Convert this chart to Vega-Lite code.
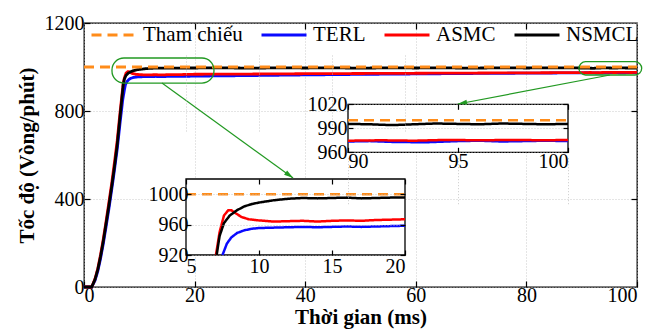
{
"$schema": "https://vega.github.io/schema/vega-lite/v6.json",
"width": 553, "height": 264,
"autosize": {"type": "none"},
"padding": {"left": 84, "top": 23, "right": 16, "bottom": 42},
"background": "white",
"config": {
  "font": "Liberation Serif",
  "view": {"stroke": "black", "strokeWidth": 1.3},
  "axis": {"labelFont": "Liberation Serif", "labelFontSize": 20, "labelColor": "black", "tickColor": "black", "domain": false, "tickSize": -6, "tickWidth": 1.2, "gridColor": "#bdbdbd", "gridDash": [1, 2], "gridWidth": 0.8, "titleFont": "Liberation Serif", "titleFontSize": 21, "titleFontWeight": "bold", "titleColor": "black", "format": "d"},
  "legend": {"labelFont": "Liberation Serif", "labelFontSize": 21, "labelColor": "black"}
},
"datasets": {
  "curves": [
    {"s":"TERL","t":0,"v":0},{"s":"TERL","t":1.4,"v":0},{"s":"TERL","t":2,"v":30},{"s":"TERL","t":2.5,"v":72},{"s":"TERL","t":3,"v":130},{"s":"TERL","t":3.5,"v":198},{"s":"TERL","t":4,"v":275},{"s":"TERL","t":4.5,"v":355},{"s":"TERL","t":5,"v":440},{"s":"TERL","t":5.5,"v":530},{"s":"TERL","t":6,"v":625},{"s":"TERL","t":6.5,"v":740},{"s":"TERL","t":7,"v":850},{"s":"TERL","t":7.3,"v":895},{"s":"TERL","t":7.5,"v":920},{"s":"TERL","t":7.8,"v":935},{"s":"TERL","t":8.1,"v":943},{"s":"TERL","t":8.5,"v":949},{"s":"TERL","t":9,"v":952.5},{"s":"TERL","t":9.5,"v":954.5},{"s":"TERL","t":10,"v":955.5},{"s":"TERL","t":11,"v":956},{"s":"TERL","t":12,"v":956.5},{"s":"TERL","t":13,"v":957},{"s":"TERL","t":14,"v":956.5},{"s":"TERL","t":15,"v":957},{"s":"TERL","t":16,"v":957.5},{"s":"TERL","t":17,"v":957},{"s":"TERL","t":18,"v":957.5},{"s":"TERL","t":19,"v":958},{"s":"TERL","t":20,"v":958.5},{"s":"TERL","t":30,"v":961},{"s":"TERL","t":40,"v":964},{"s":"TERL","t":50,"v":966.5},{"s":"TERL","t":60,"v":968.5},{"s":"TERL","t":70,"v":970.5},{"s":"TERL","t":80,"v":972},{"s":"TERL","t":90,"v":973.5},{"s":"TERL","t":91,"v":974},{"s":"TERL","t":92,"v":973},{"s":"TERL","t":93.5,"v":972.5},{"s":"TERL","t":95,"v":974},{"s":"TERL","t":96,"v":974.5},{"s":"TERL","t":97,"v":973.5},{"s":"TERL","t":98,"v":974},{"s":"TERL","t":99,"v":974.5},{"s":"TERL","t":100,"v":974},
    {"s":"ASMC","t":0,"v":0},{"s":"ASMC","t":1.4,"v":0},{"s":"ASMC","t":2,"v":38},{"s":"ASMC","t":2.5,"v":85},{"s":"ASMC","t":3,"v":148},{"s":"ASMC","t":3.5,"v":220},{"s":"ASMC","t":4,"v":300},{"s":"ASMC","t":4.5,"v":385},{"s":"ASMC","t":5,"v":470},{"s":"ASMC","t":5.5,"v":565},{"s":"ASMC","t":6,"v":665},{"s":"ASMC","t":6.5,"v":790},{"s":"ASMC","t":7,"v":905},{"s":"ASMC","t":7.05,"v":920},{"s":"ASMC","t":7.3,"v":950},{"s":"ASMC","t":7.6,"v":972},{"s":"ASMC","t":7.9,"v":979},{"s":"ASMC","t":8.1,"v":979},{"s":"ASMC","t":8.4,"v":975},{"s":"ASMC","t":8.8,"v":970},{"s":"ASMC","t":9.3,"v":967},{"s":"ASMC","t":10,"v":965.5},{"s":"ASMC","t":11,"v":964},{"s":"ASMC","t":12,"v":964.5},{"s":"ASMC","t":13,"v":965},{"s":"ASMC","t":14,"v":964},{"s":"ASMC","t":15,"v":965},{"s":"ASMC","t":16,"v":965.5},{"s":"ASMC","t":17,"v":965},{"s":"ASMC","t":18,"v":966},{"s":"ASMC","t":19,"v":966.5},{"s":"ASMC","t":20,"v":967},{"s":"ASMC","t":30,"v":968},{"s":"ASMC","t":40,"v":969.5},{"s":"ASMC","t":50,"v":970.5},{"s":"ASMC","t":60,"v":971.5},{"s":"ASMC","t":70,"v":972.5},{"s":"ASMC","t":80,"v":973.5},{"s":"ASMC","t":90,"v":974.5},{"s":"ASMC","t":91.5,"v":975},{"s":"ASMC","t":93,"v":974.5},{"s":"ASMC","t":94.5,"v":975.5},{"s":"ASMC","t":96,"v":975},{"s":"ASMC","t":97.5,"v":975.5},{"s":"ASMC","t":99,"v":975},{"s":"ASMC","t":100,"v":975.5},
    {"s":"NSMCL","t":0,"v":0},{"s":"NSMCL","t":1.4,"v":0},{"s":"NSMCL","t":2,"v":35},{"s":"NSMCL","t":2.5,"v":80},{"s":"NSMCL","t":3,"v":140},{"s":"NSMCL","t":3.5,"v":210},{"s":"NSMCL","t":4,"v":290},{"s":"NSMCL","t":4.5,"v":370},{"s":"NSMCL","t":5,"v":455},{"s":"NSMCL","t":5.5,"v":545},{"s":"NSMCL","t":6,"v":645},{"s":"NSMCL","t":6.5,"v":770},{"s":"NSMCL","t":7,"v":895},{"s":"NSMCL","t":7.1,"v":920},{"s":"NSMCL","t":7.3,"v":945},{"s":"NSMCL","t":7.6,"v":962},{"s":"NSMCL","t":8,"v":972},{"s":"NSMCL","t":8.5,"v":979},{"s":"NSMCL","t":9,"v":984},{"s":"NSMCL","t":9.5,"v":987},{"s":"NSMCL","t":10,"v":989},{"s":"NSMCL","t":11,"v":992},{"s":"NSMCL","t":12,"v":994},{"s":"NSMCL","t":13,"v":995},{"s":"NSMCL","t":14,"v":994.5},{"s":"NSMCL","t":15,"v":995},{"s":"NSMCL","t":16,"v":995.5},{"s":"NSMCL","t":17,"v":994.5},{"s":"NSMCL","t":18,"v":995},{"s":"NSMCL","t":19,"v":995.5},{"s":"NSMCL","t":20,"v":995.5},{"s":"NSMCL","t":25,"v":996},{"s":"NSMCL","t":30,"v":995},{"s":"NSMCL","t":35,"v":996},{"s":"NSMCL","t":40,"v":995.5},{"s":"NSMCL","t":45,"v":996},{"s":"NSMCL","t":50,"v":995},{"s":"NSMCL","t":55,"v":996},{"s":"NSMCL","t":60,"v":995.5},{"s":"NSMCL","t":65,"v":996},{"s":"NSMCL","t":70,"v":995},{"s":"NSMCL","t":75,"v":996},{"s":"NSMCL","t":80,"v":995.5},{"s":"NSMCL","t":85,"v":996},{"s":"NSMCL","t":90,"v":995.5},{"s":"NSMCL","t":91,"v":995},{"s":"NSMCL","t":92,"v":994},{"s":"NSMCL","t":93,"v":995},{"s":"NSMCL","t":94,"v":996},{"s":"NSMCL","t":95,"v":995.5},{"s":"NSMCL","t":96,"v":995},{"s":"NSMCL","t":97,"v":996},{"s":"NSMCL","t":98,"v":995.5},{"s":"NSMCL","t":99,"v":995},{"s":"NSMCL","t":100,"v":995.5},
    {"s":"Tham chiếu","t":0,"v":1000},{"s":"Tham chiếu","t":5,"v":1000},{"s":"Tham chiếu","t":20,"v":1000},{"s":"Tham chiếu","t":90,"v":1000},{"s":"Tham chiếu","t":100,"v":1000}
  ]
},
"layer": [
  {
    "layer": [
      {
        "data": {"name": "curves"},
        "mark": {"type": "line", "strokeWidth": 2.8},
        "encoding": {
          "x": {"field": "t", "type": "quantitative", "scale": {"domain": [0, 100], "nice": false}, "axis": {"orient": "bottom", "values": [0, 20, 40, 60, 80, 100], "title": "Thời gian (ms)", "grid": true, "labelPadding": 4, "titlePadding": 1}},
          "y": {"field": "v", "type": "quantitative", "scale": {"domain": [0, 1200], "nice": false}, "axis": {"orient": "left", "values": [0, 400, 800, 1200], "title": "Tốc độ (Vòng/phút)", "grid": true, "labelPadding": 6, "titlePadding": 7}},
          "color": {"field": "s", "type": "nominal", "scale": {"domain": ["Tham chiếu", "TERL", "ASMC", "NSMCL"], "range": ["#ff8c1a", "#0a0aff", "#ff0000", "#000000"]}, "legend": {"title": null, "orient": "none", "legendX": 6, "legendY": -12, "direction": "horizontal", "symbolType": "stroke", "symbolSize": 2025, "symbolStrokeWidth": 3, "labelOffset": 5, "columnPadding": 12}},
          "strokeDash": {"field": "s", "type": "nominal", "scale": {"domain": ["Tham chiếu", "TERL", "ASMC", "NSMCL"], "range": [[10, 6], [1, 0], [1, 0], [1, 0]]}, "legend": {"title": null, "orient": "none", "legendX": 6, "legendY": -12, "direction": "horizontal", "symbolType": "stroke", "symbolSize": 2025, "symbolStrokeWidth": 3, "labelOffset": 5, "columnPadding": 12}}
        }
      },
      {
        "data": {"values": [{}]},
        "mark": {"type": "rect", "filled": false, "stroke": "#229922", "strokeWidth": 1.3, "cornerRadius": 12},
        "encoding": {
          "x": {"datum": 5.06, "type": "quantitative", "axis": {"orient": "top", "values": [20, 40, 60, 80], "labels": false, "grid": false, "title": null}},
          "x2": {"datum": 23.5},
          "y": {"datum": 927, "type": "quantitative", "axis": {"orient": "right", "values": [400, 800], "labels": false, "grid": false, "title": null}},
          "y2": {"datum": 1041}
        }
      },
      {
        "data": {"values": [{}]},
        "mark": {"type": "rect", "filled": false, "stroke": "#229922", "strokeWidth": 1.3, "cornerRadius": 7},
        "encoding": {
          "x": {"datum": 89.5, "type": "quantitative", "axis": null},
          "x2": {"datum": 100.85},
          "y": {"datum": 963.6, "type": "quantitative", "axis": null},
          "y2": {"datum": 1024}
        }
      }
    ],
    "resolve": {"axis": {"x": "independent", "y": "independent"}}
  },
  {
    "layer": [
      {
        "data": {"values": [{}]},
        "mark": {"type": "rect", "fill": "white", "stroke": "black", "strokeWidth": 1.3},
        "encoding": {
          "x": {"datum": 90, "type": "quantitative", "scale": {"domain": [90, 100], "range": [264, 484], "nice": false}, "axis": {"orient": "bottom", "values": [90, 95, 100], "offset": -134.7, "grid": true, "title": null, "zindex": 1, "tickSize": -5, "labelPadding": 4}},
          "x2": {"datum": 100},
          "y": {"datum": 960, "type": "quantitative", "scale": {"domain": [960, 1020], "range": [129.3, 81.3], "nice": false}, "axis": {"orient": "left", "values": [960, 990, 1020], "offset": -264, "grid": true, "title": null, "zindex": 1, "tickSize": -5, "labelPadding": 6}},
          "y2": {"datum": 1020}
        }
      },
      {
        "data": {"name": "curves"},
        "transform": [{"filter": "datum.t >= 90"}],
        "mark": {"type": "line", "strokeWidth": 2.5},
        "encoding": {
          "x": {"field": "t", "type": "quantitative", "scale": {"domain": [90, 100], "range": [264, 484], "nice": false}, "axis": {"orient": "top", "values": [90, 95, 100], "offset": -81.3, "labels": false, "grid": false, "title": null, "zindex": 1, "tickSize": -5}},
          "y": {"field": "v", "type": "quantitative", "scale": {"domain": [960, 1020], "range": [129.3, 81.3], "nice": false}, "axis": {"orient": "right", "values": [960, 990, 1020], "offset": -69, "labels": false, "grid": false, "title": null, "zindex": 1, "tickSize": -5}},
          "color": {"field": "s", "type": "nominal"},
          "strokeDash": {"field": "s", "type": "nominal"}
        }
      }
    ],
    "resolve": {"axis": {"x": "independent", "y": "independent"}}
  },
  {
    "layer": [
      {
        "data": {"values": [{}]},
        "mark": {"type": "rect", "fill": "white", "stroke": "black", "strokeWidth": 1.3},
        "encoding": {
          "x": {"datum": 5, "type": "quantitative", "scale": {"domain": [5, 20], "range": [102, 321], "nice": false}, "axis": {"orient": "bottom", "values": [5, 10, 15, 20], "offset": -32, "grid": true, "title": null, "zindex": 1, "tickSize": -5, "labelPadding": 6}},
          "x2": {"datum": 20},
          "y": {"datum": 920, "type": "quantitative", "scale": {"domain": [920, 1020], "range": [232, 156], "nice": false}, "axis": {"orient": "left", "values": [920, 960, 1000], "offset": -102, "grid": true, "title": null, "zindex": 1, "tickSize": -5, "labelPadding": 3}},
          "y2": {"datum": 1020}
        }
      },
      {
        "data": {"name": "curves"},
        "transform": [{"filter": "datum.t >= 5 && datum.t <= 20 && datum.v >= 920"}],
        "mark": {"type": "line", "strokeWidth": 2.5},
        "encoding": {
          "x": {"field": "t", "type": "quantitative", "scale": {"domain": [5, 20], "range": [102, 321], "nice": false}, "axis": {"orient": "top", "values": [5, 10, 15, 20], "offset": -156, "labels": false, "grid": false, "title": null, "zindex": 1, "tickSize": -5}},
          "y": {"field": "v", "type": "quantitative", "scale": {"domain": [920, 1020], "range": [232, 156], "nice": false}, "axis": {"orient": "right", "values": [920, 960, 1000], "offset": -232, "labels": false, "grid": false, "title": null, "zindex": 1, "tickSize": -5}},
          "color": {"field": "s", "type": "nominal"},
          "strokeDash": {"field": "s", "type": "nominal"}
        }
      }
    ],
    "resolve": {"axis": {"x": "independent", "y": "independent"}}
  },
  {
    "layer": [
      {
        "data": {"values": [{}]},
        "mark": {"type": "rule", "color": "#229922", "strokeWidth": 1.2},
        "encoding": {
          "x": {"datum": 14.1, "type": "quantitative", "scale": {"domain": [0, 100], "nice": false}, "axis": null},
          "y": {"datum": 927, "type": "quantitative", "scale": {"domain": [0, 1200], "nice": false}, "axis": null},
          "x2": {"datum": 37.8},
          "y2": {"datum": 495}
        }
      },
      {
        "data": {"values": [{}]},
        "mark": {"type": "rule", "color": "#229922", "strokeWidth": 1.2},
        "encoding": {
          "x": {"datum": 95.1, "type": "quantitative", "axis": null},
          "y": {"datum": 963.6, "type": "quantitative", "axis": null},
          "x2": {"datum": 67.6},
          "y2": {"datum": 831.8}
        }
      },
      {
        "data": {"values": [{}]},
        "mark": {"type": "point", "shape": "M0,-1L0.5,0.8L-0.5,0.8Z", "filled": true, "color": "#229922", "opacity": 1, "size": 110, "angle": 126},
        "encoding": {
          "x": {"datum": 37.07, "type": "quantitative", "axis": null},
          "y": {"datum": 509, "type": "quantitative", "axis": null}
        }
      },
      {
        "data": {"values": [{}]},
        "mark": {"type": "point", "shape": "M0,-1L0.5,0.8L-0.5,0.8Z", "filled": true, "color": "#229922", "opacity": 1, "size": 110, "angle": 259},
        "encoding": {
          "x": {"datum": 68.5, "type": "quantitative", "axis": null},
          "y": {"datum": 836, "type": "quantitative", "axis": null}
        }
      }
    ]
  }
],
"resolve": {"scale": {"x": "independent", "y": "independent"}, "axis": {"x": "independent", "y": "independent"}}
}
